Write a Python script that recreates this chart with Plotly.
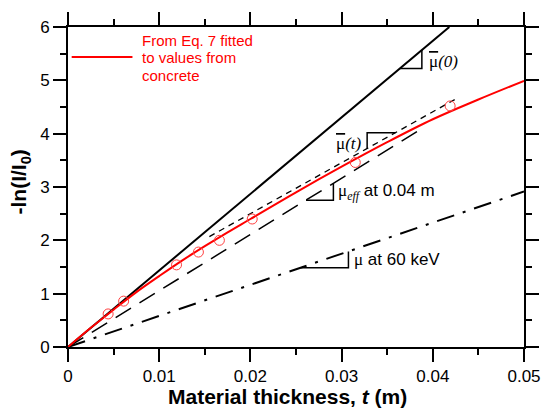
import plotly.graph_objects as go

# ---- data ----
fit_t = [0, 0.0025, 0.005, 0.0075, 0.01, 0.0125, 0.015, 0.0175, 0.02, 0.025, 0.03, 0.035, 0.04, 0.045, 0.05]
fit_y = [0, 0.36, 0.70, 1.03, 1.33, 1.62, 1.89, 2.15, 2.40, 2.90, 3.38, 3.84, 4.27, 4.64, 4.99]

meas_t = [0.0044, 0.0061, 0.0119, 0.0143, 0.0166, 0.0202, 0.0315, 0.0419]
meas_y = [0.62, 0.86, 1.54, 1.78, 2.00, 2.40, 3.46, 4.52]

mu0_slope = 143.5       # mu(0) line through origin
mut_slope = 95.5        # mu(t) tangent line
mut_icpt = 0.59
mut_range = [0.0155, 0.0428]
mueff_slope = 105.5     # mu_eff at 0.04 m
mueff_end = 0.0383
mu60_slope = 58.3       # mu at 60 keV
mu60_end = 0.05

xticks = [0, 0.01, 0.02, 0.03, 0.04, 0.05]
xticklabels = ["0", "0.01", "0.02", "0.03", "0.04", "0.05"]
yticks = [0, 1, 2, 3, 4, 5, 6]

SANS = "Arial, Liberation Sans, sans-serif"
SERIF = "Times New Roman, Liberation Serif, serif"

fig = go.Figure()

# mu(0)
t0_end = 6.0 / mu0_slope
fig.add_trace(go.Scatter(x=[0, t0_end], y=[0, mu0_slope * t0_end], mode="lines",
                         line=dict(color="black", width=2), showlegend=False))
# mu(t) short dashes
fig.add_trace(go.Scatter(x=mut_range, y=[mut_icpt + mut_slope * t for t in mut_range], mode="lines",
                         line=dict(color="black", width=1.3, dash="6px,5px"), showlegend=False))
# mu_eff long dashes
fig.add_trace(go.Scatter(x=[0, mueff_end], y=[0, mueff_slope * mueff_end], mode="lines",
                         line=dict(color="black", width=1.5, dash="18px,10px"), showlegend=False))
# mu at 60 keV dash-dot
fig.add_trace(go.Scatter(x=[0, mu60_end], y=[0, mu60_slope * mu60_end], mode="lines",
                         line=dict(color="black", width=2, dash="18px,9px,3px,9px"), showlegend=False))
# fitted curve
fig.add_trace(go.Scatter(x=fit_t, y=fit_y, mode="lines", line=dict(color="#ff0000", width=2),
                         line_shape="spline", showlegend=False))
# measured points
fig.add_trace(go.Scatter(x=meas_t, y=meas_y, mode="markers",
                         marker=dict(symbol="circle-open", size=10, color="#ff4040", line=dict(width=1)),
                         showlegend=False))

# slope triangles
def tri_below(slope, icpt, t1, t2):
    y1 = icpt + slope * t1
    y2 = icpt + slope * t2
    return [t1, t2, t2], [y1, y1, y2]

def tri_above(slope, icpt, t1, t2):
    y1 = icpt + slope * t1
    y2 = icpt + slope * t2
    return [t1, t1, t2], [y1, y2, y2]

for xs, ys in [tri_below(mu0_slope, 0, 0.0364, 0.0388),
               tri_above(mut_slope, mut_icpt, 0.0328, 0.0359),
               tri_below(mueff_slope, 0, 0.0261, 0.0291),
               tri_below(mu60_slope, 0, 0.0255, 0.03075)]:
    fig.add_trace(go.Scatter(x=xs, y=ys, mode="lines", line=dict(color="black", width=1.5),
                             showlegend=False))

# invisible trace to bring up the mirrored minor-tick axes
fig.add_trace(go.Scatter(x=[0], y=[0], xaxis="x2", yaxis="y2", mode="markers",
                         marker=dict(opacity=0), showlegend=False, hoverinfo="skip"))

OVER = "<span style='text-decoration:overline'>μ</span>"
ann = []
ann.append(dict(x=0.0394, y=5.36, text=OVER + "<i>(0)</i>", showarrow=False, xanchor="left",
                font=dict(family=SERIF, size=17, color="black")))
ann.append(dict(x=0.0325, y=3.82, text=OVER + "<i>(t)</i>", showarrow=False, xanchor="right",
                font=dict(family=SERIF, size=17, color="black")))
ann.append(dict(x=0.0294, y=2.90,
                text="<span style='font-family:Liberation Serif'>μ<sub><i>eff</i></sub></span> at 0.04 m",
                showarrow=False, xanchor="left", font=dict(family=SANS, size=17, color="black")))
ann.append(dict(x=0.0311, y=1.64,
                text="<span style='font-family:Liberation Serif'>μ</span> at 60 keV",
                showarrow=False, xanchor="left", font=dict(family=SANS, size=17, color="black")))

# legend text
for i, line in enumerate(["From Eq. 7 fitted", "to values from", "concrete"]):
    ann.append(dict(xref="paper", yref="paper", x=(141 - 68.3) / 457.7,
                    y=1 - (32 + 18 * i - 18.3) / 328.4, text=line, showarrow=False,
                    xanchor="left", yanchor="middle", font=dict(family=SANS, size=15, color="#ff0000")))

# axis titles
ann.append(dict(xref="paper", yref="paper", x=(289 - 68.3) / 457.7, y=-(398 - 346.7) / 328.4,
                text="<b>Material thickness, <i>t</i> (m)</b>", showarrow=False,
                xanchor="center", yanchor="middle", font=dict(family=SANS, size=21, color="black")))
ann.append(dict(xref="paper", yref="paper", x=-(68.3 - 20) / 457.7, y=(346.7 - 177) / 328.4,
                text="<b>-ln(I/I<sub>0</sub>)</b>", showarrow=False, textangle=-90,
                xanchor="center", yanchor="middle", font=dict(family=SANS, size=21, color="black")))

shapes = [dict(type="line", xref="paper", yref="paper",
               x0=(72 - 68.3) / 457.7, x1=(133 - 68.3) / 457.7,
               y0=1 - (49 - 18.3) / 328.4, y1=1 - (49 - 18.3) / 328.4,
               line=dict(color="#ff0000", width=2))]

axis_common = dict(showline=True, linecolor="black", linewidth=2, mirror="ticks",
                   ticks="outside", ticklen=13, tickwidth=2, tickcolor="black",
                   showgrid=False, zeroline=False,
                   tickfont=dict(family=SANS, size=17, color="black"))
mirror_common = dict(showline=False, ticks="outside", ticklen=6, tickwidth=2, tickcolor="black",
                     showticklabels=False, showgrid=False, zeroline=False)

fig.update_layout(
    width=553, height=414,
    margin=dict(l=68, r=27, t=18, b=67),
    plot_bgcolor="white", paper_bgcolor="white",
    xaxis=dict(range=[0, 0.05], tickvals=xticks, ticktext=xticklabels,
               minor=dict(ticks="outside", ticklen=6, tickwidth=2, tickcolor="black", dtick=0.005),
               **axis_common),
    yaxis=dict(range=[0, 6], tickvals=yticks,
               minor=dict(ticks="outside", ticklen=6, tickwidth=2, tickcolor="black", dtick=0.5),
               **axis_common),
    xaxis2=dict(range=[0, 0.05], overlaying="x", side="top", anchor="y2",
                tick0=0.005, dtick=0.01, **mirror_common),
    yaxis2=dict(range=[0, 6], overlaying="y", side="right", anchor="x2",
                tick0=0.5, dtick=1, **mirror_common),
    annotations=ann, shapes=shapes,
)

fig.write_html("out.html")
